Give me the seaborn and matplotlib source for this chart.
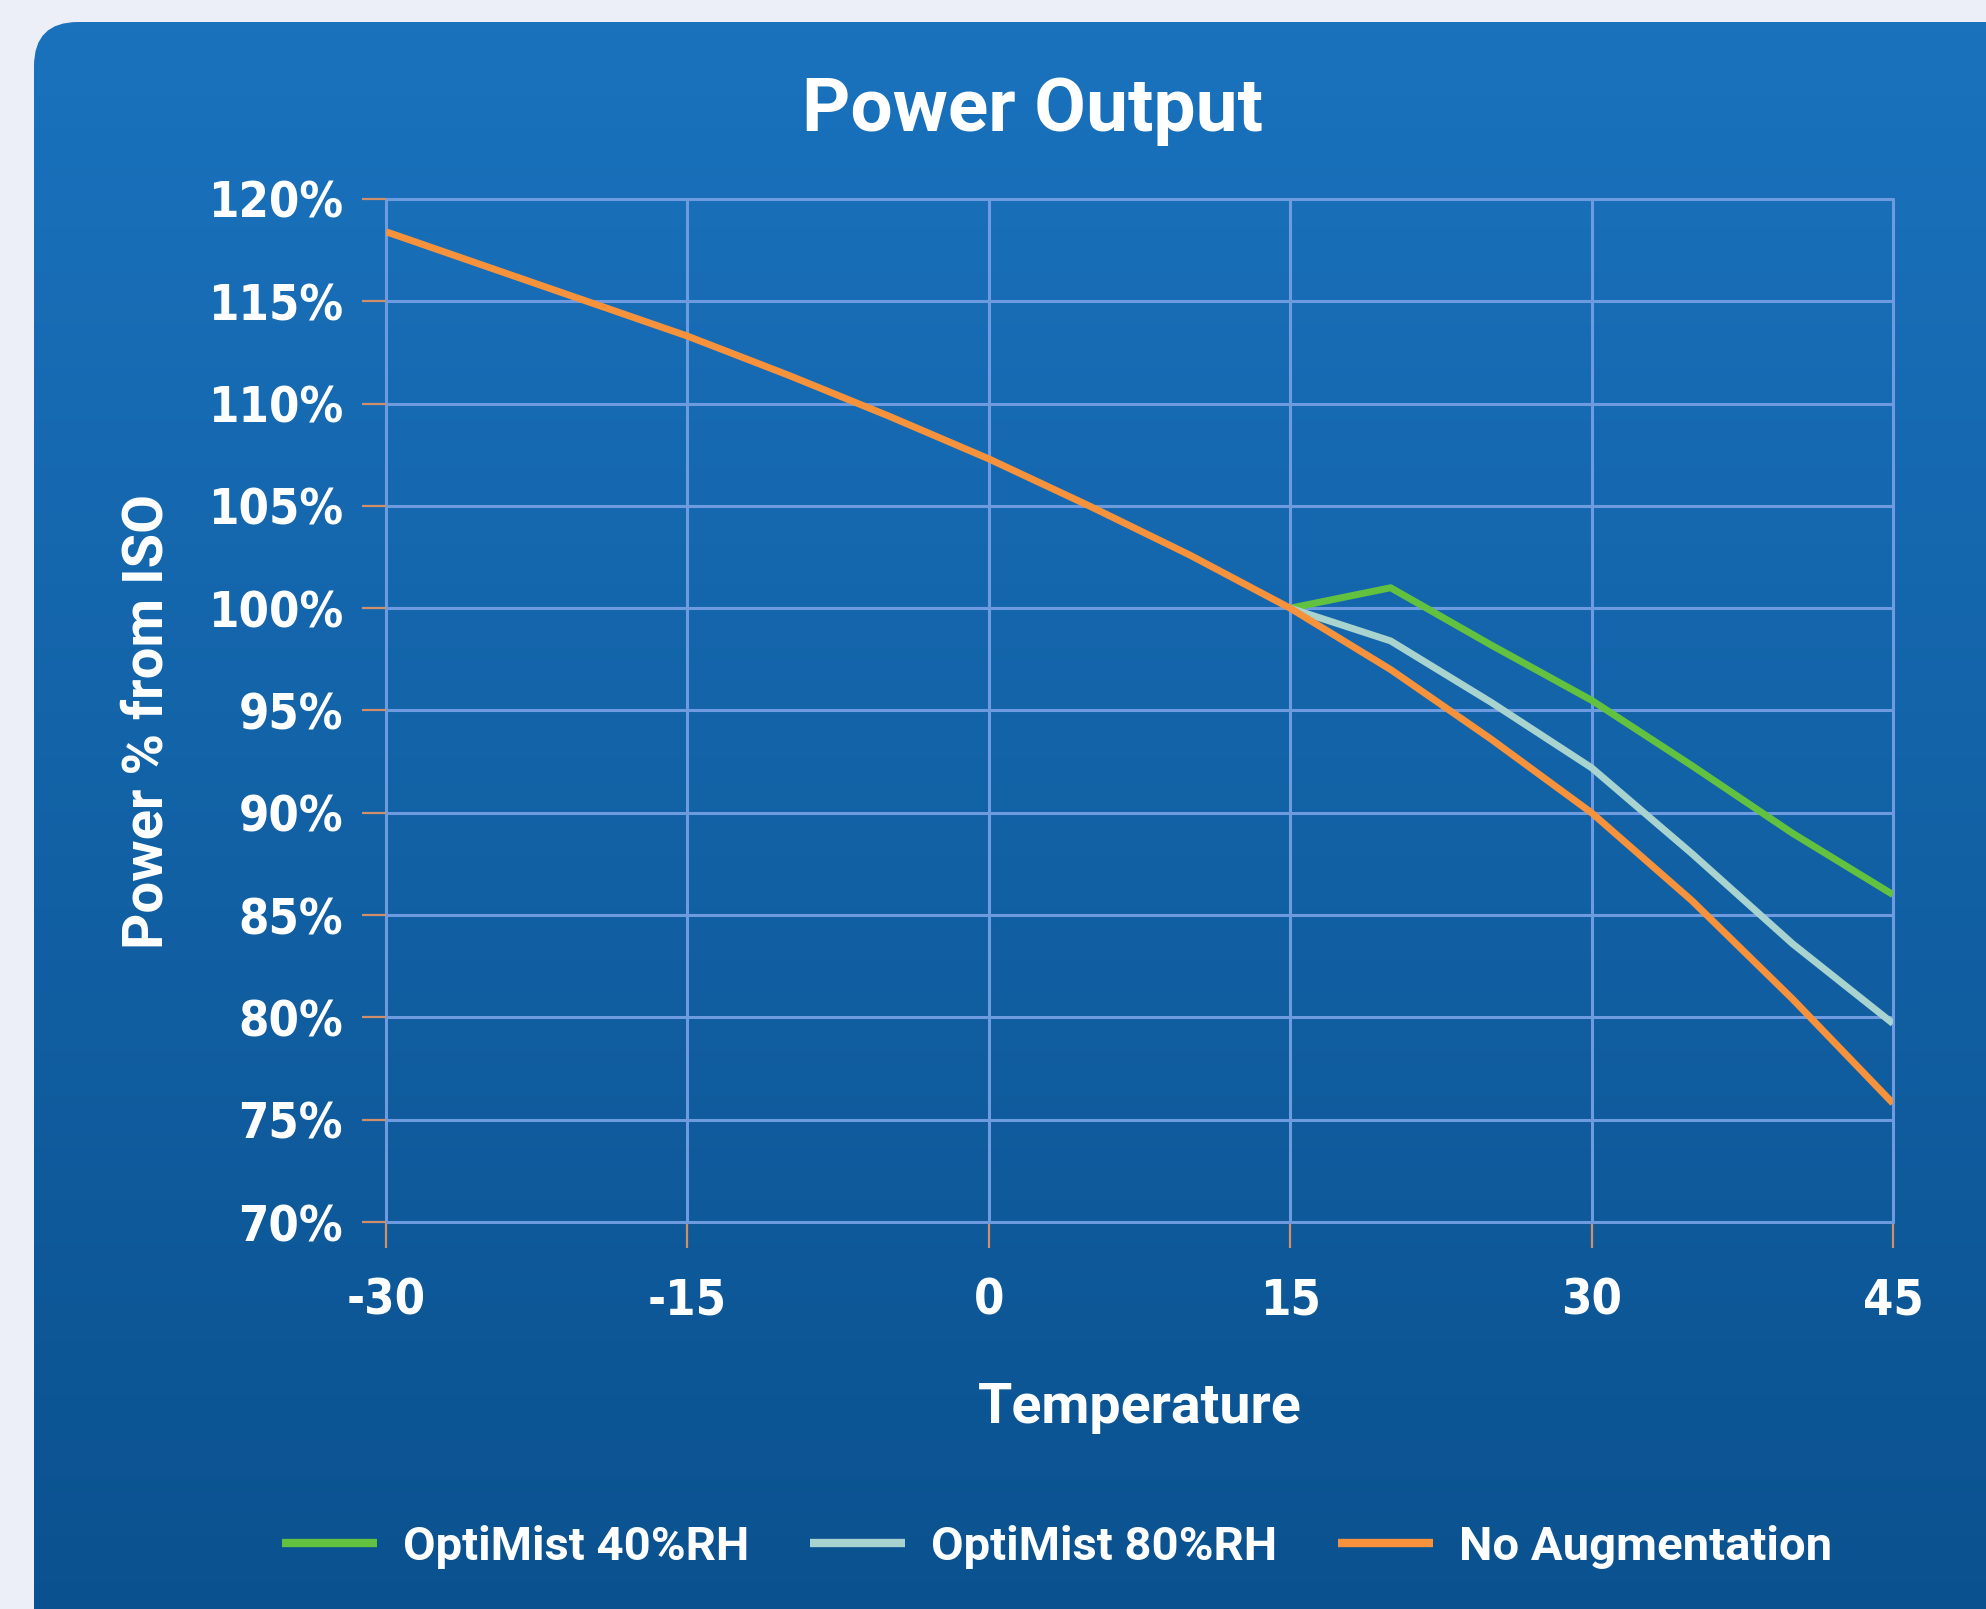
import numpy as np
import pandas as pd
import matplotlib
matplotlib.use("Agg")
import matplotlib.pyplot as plt
import seaborn as sns
from matplotlib.patches import FancyBboxPatch
from matplotlib.colors import LinearSegmentedColormap
from matplotlib import font_manager

# ---------------- data ----------------
temperature_base = [-30, -25, -20, -15, -10, -5, 0, 5, 10, 15, 20, 25, 30, 35, 40, 45]
no_augmentation = [118.4, 116.7, 115.0, 113.3, 111.4, 109.4, 107.3, 105.0, 102.6, 100.0,
                   97.0, 93.6, 90.0, 85.7, 80.9, 75.8]
temperature_mist = [15, 20, 25, 30, 35, 40, 45]
optimist_40 = [100.0, 101.0, 98.2, 95.5, 92.3, 89.0, 86.0]
optimist_80 = [100.0, 98.4, 95.4, 92.2, 88.0, 83.6, 79.7]

series_names = ["OptiMist 40%RH", "OptiMist 80%RH", "No Augmentation"]
series_colors = ["#62c23f", "#a9d3cf", "#f5923b"]
y_ticks = [70, 75, 80, 85, 90, 95, 100, 105, 110, 115, 120]
y_tick_labels = ["70%", "75%", "80%", "85%", "90%", "95%", "100%", "105%", "110%", "115%", "120%"]
x_ticks = [-30, -15, 0, 15, 30, 45]
x_tick_labels = ["-30", "-15", "0", "15", "30", "45"]
title_text = "Power Output"
x_title = "Temperature"
y_title = "Power % from ISO"

df = pd.concat([
    pd.DataFrame({"Temperature": temperature_mist, "Power": optimist_40, "Series": series_names[0]}),
    pd.DataFrame({"Temperature": temperature_mist, "Power": optimist_80, "Series": series_names[1]}),
    pd.DataFrame({"Temperature": temperature_base, "Power": no_augmentation, "Series": series_names[2]}),
], ignore_index=True)

# ---------------- style ----------------
sns.set_theme(style="white")
plt.rcParams['font.family'] = ['Roboto', 'DejaVu Sans']

# narrow font for tick labels if available
installed = {f.name for f in font_manager.fontManager.ttflist}
if 'Liberation Sans Narrow' in installed:
    tick_font = dict(family=['Liberation Sans Narrow', 'DejaVu Sans'], weight='bold', size=40)
else:
    tick_font = dict(family=['DejaVu Sans'], weight='bold', stretch='condensed', size=35)

W, H = 1986, 1609
fig = plt.figure(figsize=(W / 100, H / 100), dpi=100)
fig.patch.set_facecolor('#eceff8')

# background panel with vertical gradient and rounded corner
bg = fig.add_axes([0, 0, 1, 1], zorder=0)
grad = np.linspace(0, 1, 256).reshape(-1, 1)
cmap = LinearSegmentedColormap.from_list('panel', ['#1a72bd', '#0a508d'])
im = bg.imshow(grad, cmap=cmap, extent=[34, W + 80, H + 80, 22], aspect='auto', interpolation='bilinear')
panel = FancyBboxPatch((34, 22), W + 200, H + 200, boxstyle="round,pad=0,rounding_size=44",
                       transform=bg.transData, facecolor='none', edgecolor='none')
bg.add_patch(panel)
im.set_clip_path(panel)
bg.set_xlim(0, W)
bg.set_ylim(H, 0)
bg.axis('off')

# main axes
ax = fig.add_axes([386 / W, 1 - 1222 / H, (1893 - 386) / W, (1222 - 199) / H], zorder=1)
ax.patch.set_alpha(0)

sns.lineplot(data=df, x="Temperature", y="Power", hue="Series", hue_order=series_names,
             palette=series_colors, linewidth=5.0, ax=ax, sort=True)
for ln in ax.lines:
    ln.set_solid_capstyle('butt')
    ln.set_solid_joinstyle('round')

ax.set_xlim(-30, 45)
ax.set_ylim(70, 120)
ax.set_xticks(x_ticks)
ax.set_xticklabels(x_tick_labels)
ax.set_yticks(y_ticks)
ax.set_yticklabels(y_tick_labels)

ax.grid(True, color='#6e9ae0', linewidth=2.2)
ax.set_axisbelow(True)
for gl in ax.get_xgridlines() + ax.get_ygridlines():
    gl.set_clip_on(False)
for s in ax.spines.values():
    s.set_visible(False)

ax.tick_params(axis='both', bottom=True, left=True, colors='#cf8f6a', labelcolor='white',
               width=1.6, direction='out')
ax.tick_params(axis='y', length=17, pad=14)
ax.tick_params(axis='x', length=19, pad=20)
for lbl in ax.get_xticklabels() + ax.get_yticklabels():
    lbl.set_fontproperties(font_manager.FontProperties(**tick_font))

ax.set_xlabel(x_title, fontsize=40, color='white', fontweight='bold')
ax.xaxis.label.set_va('center')
ax.xaxis.set_label_coords(0.5, -0.1818)
ax.set_ylabel(y_title, fontsize=40.5, color='white', fontweight='bold')
ax.yaxis.label.set_va('center')
ax.yaxis.set_label_coords(-0.1585, 0.489)

ax.set_title(title_text, fontsize=54, color='white', fontweight='bold',
             x=(1032 - 386) / 1507, y=(1222 - 111) / 1023, va='center', pad=0)

handles, labels = ax.get_legend_handles_labels()
if ax.get_legend() is not None:
    ax.get_legend().remove()
leg = fig.legend(handles, labels, loc='center', bbox_to_anchor=(1057 / W, 1 - 1547 / H), ncol=3,
                 frameon=False, handlelength=2.0, handletextpad=0.55,
                 columnspacing=1.3, prop={'size': 34, 'weight': 'bold'})
for t in leg.get_texts():
    t.set_color('white')
for h in leg.legend_handles:
    h.set_linewidth(6)

fig.savefig("out.png", dpi=100, facecolor=fig.get_facecolor())
